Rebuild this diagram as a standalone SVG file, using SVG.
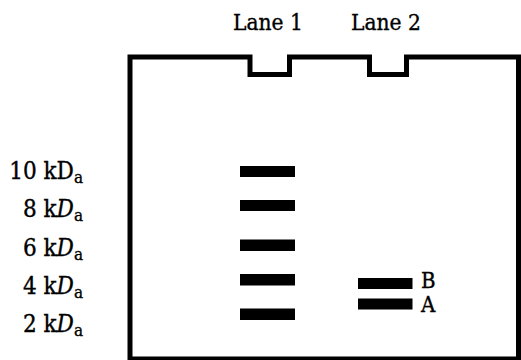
<svg xmlns="http://www.w3.org/2000/svg" width="521" height="360" viewBox="0 0 521 360">
<style>
text{font-family:"DejaVu Serif Condensed","DejaVu Serif","Liberation Serif",serif;fill:#000;stroke:#000;stroke-width:0.35}
.lbl{font-size:22.5px}
.mk{font-size:24px}
.sub{font-size:17px}
.band{fill:#000}
.gel{fill:#fff;stroke:#000;stroke-width:5;stroke-linejoin:miter}
</style>
<rect width="521" height="360" fill="#fff"/>
<g id="gel">
<path class="gel" d="M130,362 V57 H250 V74.5 H289.5 V57 H369.5 V74.5 H406.5 V57 H518.5 V359 H130"/>
</g>
<g id="lane-labels">
<text class="lbl" x="233" y="30">Lane 1</text>
<text class="lbl" x="351" y="30">Lane 2</text>
</g>
<g id="markers">
<text class="mk" x="83" y="178.5" text-anchor="end">10 kD<tspan class="sub" dy="4">a</tspan></text>
<text class="mk" x="83" y="217" text-anchor="end">8 k<tspan font-style="italic">D</tspan><tspan class="sub" dy="4">a</tspan></text>
<text class="mk" x="83" y="255.5" text-anchor="end">6 k<tspan font-style="italic">D</tspan><tspan class="sub" dy="4">a</tspan></text>
<text class="mk" x="83" y="293.5" text-anchor="end">4 k<tspan font-style="italic">D</tspan><tspan class="sub" dy="4">a</tspan></text>
<text class="mk" x="83" y="332" text-anchor="end">2 k<tspan font-style="italic">D</tspan><tspan class="sub" dy="4">a</tspan></text>
</g>
<g id="lane1">
<rect class="band" x="240" y="166" width="55" height="11"/>
<rect class="band" x="240" y="200" width="55" height="11"/>
<rect class="band" x="240" y="239.5" width="55" height="11.5"/>
<rect class="band" x="240" y="274" width="55" height="11.5"/>
<rect class="band" x="240" y="308.5" width="55" height="11.5"/>
</g>
<g id="lane2">
<rect class="band" x="358" y="278" width="54.5" height="11"/>
<rect class="band" x="358" y="298.5" width="54.5" height="11"/>
<text class="lbl" x="421" y="288" style="font-size:22px">B</text>
<text class="lbl" x="421" y="312" style="font-size:22px">A</text>
</g>
</svg>
